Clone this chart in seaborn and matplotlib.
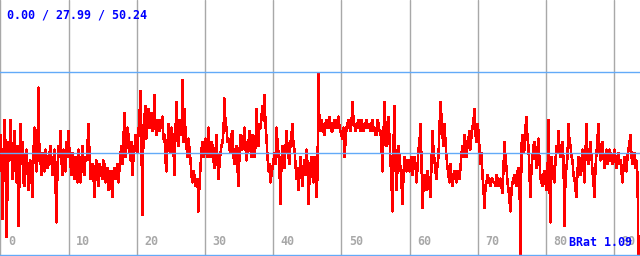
import numpy as np
import pandas as pd
import matplotlib
matplotlib.use("Agg")
import matplotlib.pyplot as plt
import matplotlib.transforms as mtransforms
import seaborn as sns

# ---- data (one sample per ~0.1466 x-units) ----
values = [
    # segment 1
    33, 28, 10, 24, 37, 30, 5, 18, 31, 26,
    37, 29, 21, 27, 34, 24, 20, 30, 8, 22,
    36, 25, 31, 20, 19, 27, 29, 24, 18, 25,
    26, 21, 16, 28, 35, 27, 23, 30, 46, 26,
    26, 22, 28, 25, 23, 29, 27, 24, 25, 28,
    30, 26, 22, 25, 29, 20, 9, 24, 30, 27,
    34, 26, 22, 29, 26, 23, 31, 27, 34, 28,
    25, 22, 28, 24, 21, 27, 26, 20, 29, 24,
    20, 26, 30, 23, 22, 27, 26, 30, 36, 28,
    21, 25,
    # segment 2
    25, 22, 16, 24, 26, 21, 19, 25, 24, 22,
    21, 26, 25, 20, 23, 24, 18, 22, 23, 19,
    16, 23, 24, 21, 22, 25, 20, 24, 28, 30,
    25, 32, 39, 27, 30, 35, 33, 29, 26, 31,
    22, 27, 29, 33, 31, 28, 34, 38, 45, 30,
    11, 35, 38, 41, 32, 37, 40, 35, 36, 39,
    34, 37, 44, 35, 33, 36, 37, 34, 35, 37,
    38, 32, 33, 26, 23, 30, 36, 32, 28, 35,
    33, 29, 22, 34, 42, 35, 30, 37, 36, 33,
    48, 31,
    # segment 3
    40, 34, 30, 27, 32, 29, 26, 22, 20, 23,
    22, 19, 19, 21, 12, 20, 24, 29, 31, 27,
    28, 32, 30, 27, 35, 29, 27, 31, 30, 26,
    24, 28, 33, 26, 21, 25, 28, 30, 31, 34,
    43, 36, 35, 31, 32, 29, 28, 33, 34, 27,
    25, 29, 30, 24, 19, 28, 33, 30, 29, 32,
    35, 30, 26, 29, 31, 34, 29, 27, 33, 31,
    27, 30, 40, 33, 30, 36, 35, 38, 41, 37,
    44, 36, 32, 27, 23, 25, 20, 22, 24, 26,
    28, 25,
    # segment 4
    35, 31, 28, 24, 14, 26, 30, 27, 24, 29,
    34, 30, 27, 25, 31, 33, 36, 30, 29, 25,
    21, 24, 18, 23, 27, 22, 19, 24, 26, 22,
    29, 25, 14, 21, 25, 27, 22, 20, 27, 24,
    16, 22, 50, 35, 34, 37, 36, 34, 33, 36,
    37, 35, 35, 38, 36, 34, 34, 36, 37, 35,
    35, 37, 38, 35, 34, 33, 32, 35, 27, 31,
    35, 36, 37, 35, 34, 36, 42, 37, 36, 34,
    35, 36, 37, 35, 34, 37, 36, 34, 35, 36,
    37, 35,
    # segment 5
    36, 35, 34, 36, 37, 34, 35, 33, 33, 37,
    36, 34, 34, 30, 23, 33, 42, 35, 30, 36,
    38, 32, 26, 20, 12, 30, 41, 25, 18, 24,
    30, 27, 24, 20, 14, 22, 27, 25, 23, 26,
    26, 23, 25, 27, 22, 24, 27, 25, 20, 24,
    29, 31, 36, 26, 13, 19, 22, 20, 18, 23,
    21, 19, 16, 25, 34, 29, 26, 23, 21, 25,
    27, 35, 42, 38, 33, 30, 36, 31, 27, 24,
    22, 20, 25, 21, 19, 22, 23, 21, 20, 23,
    22, 21,
    # segment 6
    24, 28, 30, 27, 33, 31, 27, 30, 32, 34,
    29, 33, 35, 37, 40, 33, 31, 36, 34, 29,
    25, 28, 22, 18, 13, 19, 20, 22, 21, 20,
    19, 21, 21, 20, 20, 19, 22, 21, 19, 20,
    21, 19, 17, 24, 31, 27, 24, 20, 18, 15,
    12, 18, 20, 21, 22, 20, 19, 23, 24, 21,
    0, 30, 33, 28, 29, 35, 38, 32, 30, 22,
    16, 24, 27, 30, 31, 27, 24, 29, 32, 26,
    21, 20, 19, 22, 23, 20, 18, 21, 37, 20,
    9, 27,
    # segment 7
    24, 21, 20, 26, 30, 28, 34, 29, 27, 30,
    31, 26, 8, 22, 24, 27, 36, 31, 30, 27,
    26, 22, 21, 18, 16, 23, 27, 25, 22, 26,
    29, 24, 20, 28, 36, 27, 25, 28, 31, 27,
    23, 20, 16, 24, 28, 32, 36, 29, 26, 30,
    31, 27, 24, 27, 29, 25, 26, 29, 28, 26,
    25, 27, 29, 26, 24, 27, 28, 25, 26, 23,
    20, 24, 27, 25, 23, 27, 29, 31, 33, 27,
    25, 27, 28, 24, 26, 22, 0, 0,
]
grid_ticks = [0, 10, 20, 30, 40, 50, 60, 70, 80, 90]
tick_labels = ["0", "10", "20", "30", "40", "50", "60", "70", "80", "90"]
stat_min, stat_avg, stat_max = 0.00, 27.99, 50.24
header_text = "0.00 / 27.99 / 50.24"
footer_text = "BRat 1.09"

sample_step = 1 / 6.82
df = pd.DataFrame({"t": np.arange(len(values)) * sample_step, "v": values})

sns.set_theme(style="white")
plt.rcParams["font.family"] = ["DejaVu Sans Mono", "DejaVu Sans"]

fig = plt.figure(figsize=(6.4, 2.56), dpi=100)
ax = fig.add_axes([0, 0, 1, 1])
ax.set_xlim(-0.07, 93.77)
ax.set_ylim(-0.2, 70)
ax.axis("off")

grey = "#a8a8a8"
blue_line = "#62aaf8"
for t in grid_ticks:
    ax.axvline(t, color=grey, linewidth=1.0, zorder=1)

sns.lineplot(data=df, x="t", y="v", ax=ax, color="#ff0000", linewidth=1.1,
             errorbar=None, zorder=2, antialiased=False)

for yv in (stat_min, stat_avg, stat_max):
    ax.axhline(yv, color=blue_line, linewidth=1.0, zorder=3)

blend = mtransforms.blended_transform_factory(ax.transData, ax.transAxes)
off = mtransforms.offset_copy(blend, fig=fig, x=7.5, y=0, units="dots")
for t, lab in zip(grid_ticks, tick_labels):
    ax.text(t, 11 / 256, lab, transform=off, color=grey, fontsize=8.4,
            fontweight="bold", ha="left", va="baseline", zorder=4)

ax.text(7 / 640, 1 - 19 / 256, header_text, transform=ax.transAxes,
        color="#0000ff", fontsize=8.4, fontweight="bold", ha="left",
        va="baseline", zorder=5)
ax.text(569 / 640, 10 / 256, footer_text, transform=ax.transAxes,
        color="#0000ff", fontsize=8.4, fontweight="bold", ha="left",
        va="baseline", zorder=5)

fig.savefig("out.png", dpi=100)
